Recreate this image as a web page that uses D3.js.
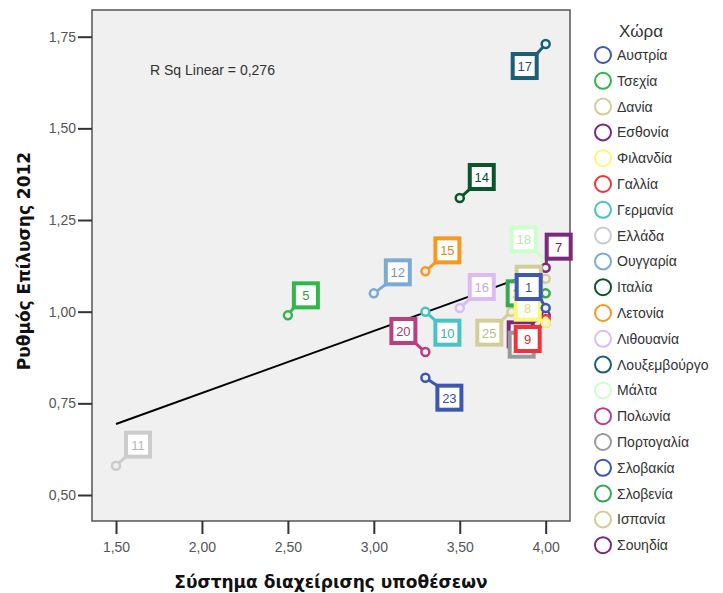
<!DOCTYPE html>
<html>
<head>
<meta charset="utf-8">
<script src="https://cdn.jsdelivr.net/npm/d3@7"></script>
<style>
  body { margin: 0; background: #fff; }
  svg text { font-family: "Liberation Sans", Arial, sans-serif; }
</style>
</head>
<body>
<div id="chart"></div>
<script>
// data
const countries = ["Αυστρία", "Τσεχία", "Δανία", "Εσθονία", "Φιλανδία", "Γαλλία", "Γερμανία", "Ελλάδα", "Ουγγαρία", "Ιταλία",
  "Λετονία", "Λιθουανία", "Λουξεμβούργο", "Μάλτα", "Πολωνία", "Πορτογαλία", "Σλοβακία", "Σλοβενία", "Ισπανία", "Σουηδία"];
const caseIds = [1, 5, 6, 7, 8, 9, 10, 11, 12, 14, 15, 16, 17, 18, 20, 21, 23, 24, 25, 26];
const caseSystem = [4.00, 2.50, 4.00, 4.00, 4.00, 4.00, 3.30, 1.50, 3.00, 3.50, 3.30, 3.50, 4.00, 4.00, 3.30, 4.00, 3.30, 4.00, 3.80, 4.00];
const clearance2012 = [1.01, 0.99, 1.09, 1.12, 0.97, 0.98, 1.00, 0.58, 1.05, 1.31, 1.11, 1.01, 1.73, 1.14, 0.89, 0.97, 0.82, 1.05, 1.00, 0.99];
const xTicks = [1.5, 2.0, 2.5, 3.0, 3.5, 4.0];
const yTicks = [0.5, 0.75, 1.0, 1.25, 1.5, 1.75];
const rSquared = 0.276;

const colors = ["#3e58ac", "#2eb848", "#d3ce97", "#7c287d", "#fbf873", "#ef3338", "#48c2c5", "#cccccc", "#7aaad5", "#0a562c",
  "#f8981d", "#ddbaf1", "#1a5f76", "#ccffcc", "#bb3f7f", "#999999", "#3d56b0", "#35a852", "#d3ce97", "#7c287d"];
// where each case label box sits relative to its point (px)
const labelOffset = [[-17, -21], [18, -20], [-17, 0], [13, -21], [-18, -15], [-18, 20], [22, 21], [22, -21], [24, -21], [22, -21],
  [22, -21], [22, -21], [-21, 22], [-22, -21], [-22, -21], [-24, 22], [24, 20], [-26, 0], [-22, 21], [-25, 19]];

const W = 723, H = 593;
const plot = {left: 92, right: 570, top: 10, bottom: 521};

const fmt = v => d3.format(".2f")(v).replace(".", ",");

const svg = d3.select("#chart").append("svg")
  .attr("width", W).attr("height", H);

const x = d3.scaleLinear().domain([1.3603, 4.1414]).range([plot.left, plot.right]);
const y = d3.scaleLinear().domain([0.4291, 1.8228]).range([plot.bottom, plot.top]);

svg.append("rect")
  .attr("x", plot.left).attr("y", plot.top)
  .attr("width", plot.right - plot.left).attr("height", plot.bottom - plot.top)
  .attr("fill", "#f0f0f0").attr("stroke", "#555").attr("stroke-width", 1.5);

const xAxis = svg.append("g")
  .attr("transform", "translate(0," + plot.bottom + ")")
  .call(d3.axisBottom(x).tickValues(xTicks).tickFormat(fmt).tickSize(13).tickPadding(8));
const yAxis = svg.append("g")
  .attr("transform", "translate(" + plot.left + ",0)")
  .call(d3.axisLeft(y).tickValues(yTicks).tickFormat(fmt).tickSize(14).tickPadding(2));
[xAxis, yAxis].forEach(function(a) {
  a.select(".domain").remove();
  a.selectAll(".tick line").attr("stroke", "#333").attr("stroke-width", 2);
  a.selectAll(".tick text").attr("fill", "#555").attr("font-size", "14px")
    .attr("font-family", "'Liberation Sans', Arial, sans-serif");
});

// fit line
const n = caseSystem.length;
const mx = d3.mean(caseSystem), my = d3.mean(clearance2012);
let sxy = 0, sxx = 0;
for (let i = 0; i < n; i++) {
  sxy += (caseSystem[i] - mx) * (clearance2012[i] - my);
  sxx += (caseSystem[i] - mx) * (caseSystem[i] - mx);
}
const slope = sxy / sxx, icpt = my - slope * mx;
const x0 = d3.min(caseSystem), x1 = d3.max(caseSystem);
svg.append("line")
  .attr("x1", x(x0)).attr("y1", y(icpt + slope * x0))
  .attr("x2", x(x1)).attr("y2", y(icpt + slope * x1))
  .attr("stroke", "#000").attr("stroke-width", 2);

svg.append("text")
  .attr("x", 150).attr("y", 75)
  .attr("font-size", "14px").attr("fill", "#333")
  .text("R Sq Linear = " + String(rSquared).replace(".", ","));

// points with case labels, drawn last-to-first so early cases sit on top
const box = 24;
const order = d3.range(n).reverse();
const pts = svg.append("g").selectAll("g").data(order).enter().append("g");
pts.each(function(i) {
  const g = d3.select(this);
  const px = x(caseSystem[i]), py = y(clearance2012[i]);
  const o = labelOffset[i];
  const bx = px + o[0], by = py + o[1];
  const c = colors[i];
  g.append("line")
    .attr("x1", px).attr("y1", py)
    .attr("x2", bx - Math.sign(o[0]) * box / 2).attr("y2", by - Math.sign(o[1]) * box / 2)
    .attr("stroke", c).attr("stroke-width", 3);
  g.append("circle")
    .attr("cx", px).attr("cy", py).attr("r", 4)
    .attr("fill", "#f0f0f0").attr("stroke", c).attr("stroke-width", 2.5);
  g.append("rect")
    .attr("x", bx - box / 2).attr("y", by - box / 2)
    .attr("width", box).attr("height", box)
    .attr("fill", "#fff").attr("stroke", c).attr("stroke-width", 4);
  g.append("text")
    .attr("x", bx).attr("y", by + 5)
    .attr("text-anchor", "middle").attr("font-size", "13px")
    .attr("fill", d3.color(c).darker(0.3))
    .text(caseIds[i]);
});

// axis titles
svg.append("text")
  .attr("x", 331).attr("y", 588)
  .attr("text-anchor", "middle")
  .style("font-family", "'DejaVu Sans', sans-serif")
  .attr("font-weight", "bold").attr("font-size", "17px").attr("fill", "#111")
  .text("Σύστημα διαχείρισης υποθέσεων");
svg.append("text")
  .attr("transform", "translate(30,261) rotate(-90)")
  .attr("text-anchor", "middle")
  .style("font-family", "'DejaVu Sans', sans-serif")
  .attr("font-weight", "bold").attr("font-size", "17px").attr("fill", "#111")
  .text("Ρυθμός Επίλυσης 2012");

// legend
const legend = svg.append("g");
legend.append("text")
  .attr("x", 641).attr("y", 37)
  .attr("text-anchor", "middle").attr("font-size", "17px").attr("fill", "#333")
  .text("Χώρα");
const items = legend.selectAll("g.item").data(countries).enter().append("g")
  .attr("class", "item")
  .attr("transform", (d, i) => "translate(0," + (55 + i * 25.8) + ")");
items.append("circle")
  .attr("cx", 603).attr("cy", 0).attr("r", 8)
  .attr("fill", "none").attr("stroke", (d, i) => colors[i]).attr("stroke-width", 2);
items.append("text")
  .attr("x", 617).attr("y", 5)
  .attr("font-size", "14px").attr("fill", "#333")
  .text(d => d);
</script>
</body>
</html>
